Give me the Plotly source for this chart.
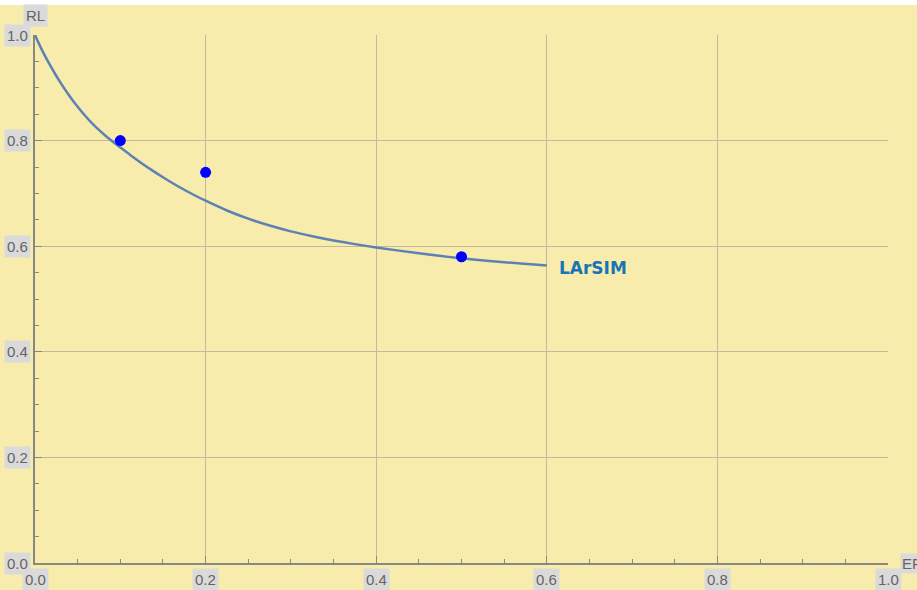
import plotly.graph_objects as go

# Curve
curve_x = [0.0, 0.004, 0.010, 0.017, 0.024, 0.031, 0.039, 0.047, 0.056, 0.065, 0.074, 0.083,
           0.092, 0.1, 0.112, 0.125, 0.137, 0.15, 0.162, 0.175, 0.187, 0.2, 0.225, 0.25, 0.275,
           0.3, 0.325, 0.35, 0.375, 0.4, 0.45, 0.5, 0.55, 0.6]
curve_y = [1.0, 0.9856, 0.9658, 0.9448, 0.9252, 0.9070, 0.8878, 0.8702, 0.8522, 0.8360, 0.8216, 0.8086,
           0.7969, 0.7870, 0.7724, 0.7573, 0.7441, 0.7306, 0.7188, 0.7069, 0.6965, 0.6861, 0.6676,
           0.6521, 0.6391, 0.6281, 0.6189, 0.6109, 0.6039, 0.5976, 0.5866, 0.5771, 0.5696, 0.5636]

# Data points
pts_x = [0.1, 0.2, 0.5]
pts_y = [0.80, 0.74, 0.58]

x_ticks = [0.0, 0.2, 0.4, 0.6, 0.8, 1.0]
x_tick_labels = ["0.0", "0.2", "0.4", "0.6", "0.8", "1.0"]
y_ticks = [0.0, 0.2, 0.4, 0.6, 0.8, 1.0]
y_tick_labels = ["0.0", "0.2", "0.4", "0.6", "0.8", "1.0"]

series_label = "LArSIM"
x_title = "EF"
y_title = "RL"

BG = "#F7ECAB"
GRID = "#C2BA98"
AXIS = "#888780"
LBL_BG = "#DADADA"
LBL_FG = "#646464"
FONT = dict(family="Liberation Sans, Arial", size=15, color=LBL_FG)

fig = go.Figure()
fig.add_trace(go.Scatter(x=curve_x, y=curve_y, mode="lines",
                         line=dict(color="#5E81B5", width=2.5, shape="spline", smoothing=0.8),
                         showlegend=False, hoverinfo="skip"))
fig.add_trace(go.Scatter(x=pts_x, y=pts_y, mode="markers", marker=dict(color="#0000FF", size=11),
                         showlegend=False))

ann = []
for v, t in zip(x_ticks, x_tick_labels):
    ann.append(dict(x=v, y=0, xref="x", yref="paper", text=t, showarrow=False, yshift=-16,
                    xanchor="center", yanchor="middle", bgcolor=LBL_BG, font=FONT, borderpad=2))
for v, t in zip(y_ticks, y_tick_labels):
    ann.append(dict(x=0, y=v, xref="paper", yref="y", text=t, showarrow=False, xanchor="right",
                    yanchor="middle", xshift=-4, bgcolor=LBL_BG, font=FONT, borderpad=2))
ann.append(dict(x=0, y=1, xref="paper", yref="paper", text=y_title, showarrow=False,
                xanchor="center", yanchor="middle", yshift=20, bgcolor=LBL_BG, font=FONT, borderpad=2))
ann.append(dict(x=1, y=0, xref="paper", yref="paper", text=x_title, showarrow=False, xanchor="left",
                yanchor="middle", xshift=12, bgcolor=LBL_BG, font=FONT, borderpad=1))
ann.append(dict(x=curve_x[-1], y=curve_y[-1], xref="x", yref="y", text="<b>" + series_label + "</b>",
                showarrow=False, xanchor="left", yanchor="middle", xshift=10, yshift=-3,
                font=dict(family="DejaVu Sans", size=17, color="#1A73B5")))

axis_common = dict(range=[0, 1], showgrid=True, gridcolor=GRID, gridwidth=1.3, zeroline=False,
                   showline=True, linecolor=AXIS, linewidth=1.5, ticks="inside", ticklen=7,
                   tickcolor=AXIS, showticklabels=False, tickvals=x_ticks,
                   minor=dict(ticks="inside", ticklen=4, tickcolor=AXIS, dtick=0.05, showgrid=False))

fig.update_layout(
    width=917, height=590,
    margin=dict(l=35, r=29, t=35, b=27),
    paper_bgcolor=BG, plot_bgcolor=BG,
    xaxis=axis_common,
    yaxis=dict(axis_common, tickvals=y_ticks),
    annotations=ann,
    shapes=[dict(type="rect", xref="paper", yref="paper", x0=-0.1, x1=1.1, y0=1.0568, y1=1.08,
                 fillcolor="white", line=dict(width=0), layer="above")],
)

fig.write_html("out.html")
